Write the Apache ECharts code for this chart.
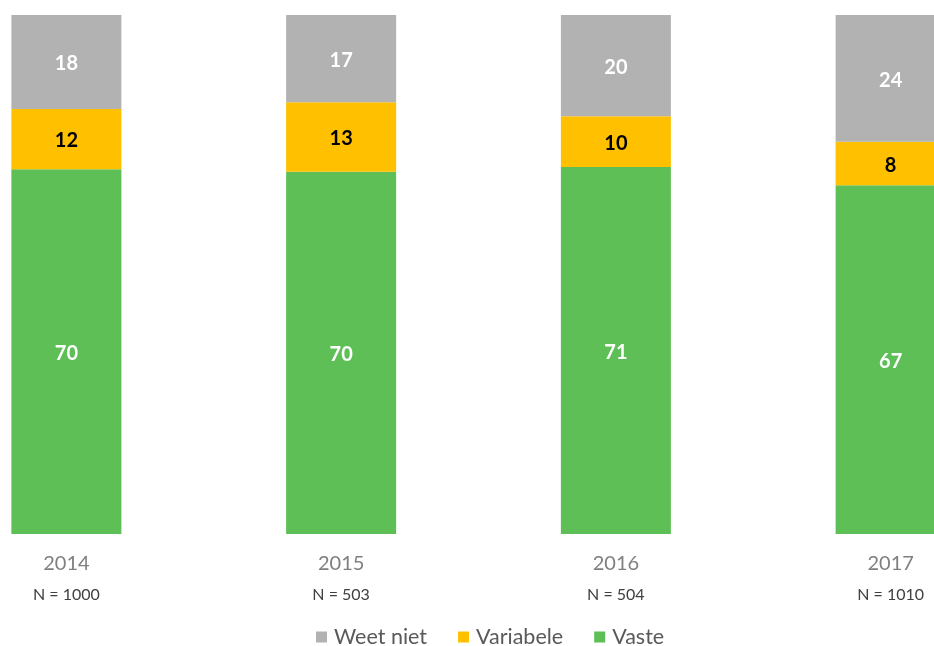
<!DOCTYPE html>
<html>
<head>
<meta charset="utf-8">
<script src="https://cdn.jsdelivr.net/npm/echarts@6/dist/echarts.min.js"></script>
<style>
html,body{margin:0;padding:0;background:#fff;overflow:hidden;width:934px;height:646px;}
#c{width:1099px;height:646px;position:absolute;left:-71px;top:0;}
</style>
</head>
<body>
<div id="c"></div>
<script>
const years = ['2014', '2015', '2016', '2017'];
const sampleSizes = ['N = 1000', 'N = 503', 'N = 504', 'N = 1010'];
const seriesNames = ['Weet niet', 'Variabele', 'Vaste'];
const weetNiet = [18.1, 16.8, 19.5, 24.4];
const variabele = [11.6, 13.4, 9.8, 8.4];
const vaste = [70.3, 69.8, 70.7, 67.2];
const colors = ['#b2b2b2', '#ffc000', '#5dbf55'];

const FONT = 'Lato, "Open Sans", sans-serif';
const chart = echarts.init(document.getElementById('c'));
const stackData = [vaste, variabele, weetNiet];
const stackNames = ['Vaste', 'Variabele', 'Weet niet'];
const stackColors = [colors[2], colors[1], colors[0]];
const labelColors = ['#ffffff', '#000000', '#ffffff'];

chart.setOption({
  animation: false,
  textStyle: {fontFamily: FONT},
  grid: {left: 0, right: 0, top: 15, bottom: 112, containLabel: false},
  legend: {
    data: seriesNames,
    left: 382, top: 621,
    itemWidth: 11, itemHeight: 11, itemGap: 31,
    icon: 'rect',
    textStyle: {color: '#595959', fontSize: 21.5, fontFamily: FONT, padding: [0, 0, 0, 2]}
  },
  xAxis: {
    type: 'category',
    data: years,
    axisLine: {show: false},
    axisTick: {show: false},
    axisLabel: {
      margin: 15,
      formatter: (v, i) => '{y|' + v + '}\n{n|' + sampleSizes[i] + '}',
      rich: {
        y: {fontSize: 20, color: '#7f7f7f', lineHeight: 30, fontFamily: FONT},
        n: {fontSize: 16, color: '#404040', lineHeight: 32, fontFamily: FONT}
      }
    }
  },
  yAxis: {type: 'value', min: 0, max: 100, show: false, splitLine: {show: false}},
  series: stackData.map((d, k) => ({
    name: stackNames[k],
    type: 'bar',
    stack: 'total',
    barWidth: 110,
    data: d,
    itemStyle: {color: stackColors[k]},
    label: {
      show: true,
      position: 'inside',
      offset: [0, 2],
      formatter: p => Math.round(p.value),
      color: labelColors[k],
      fontWeight: 'bold',
      fontSize: 20,
      fontFamily: FONT
    }
  }))
});
</script>
</body>
</html>
